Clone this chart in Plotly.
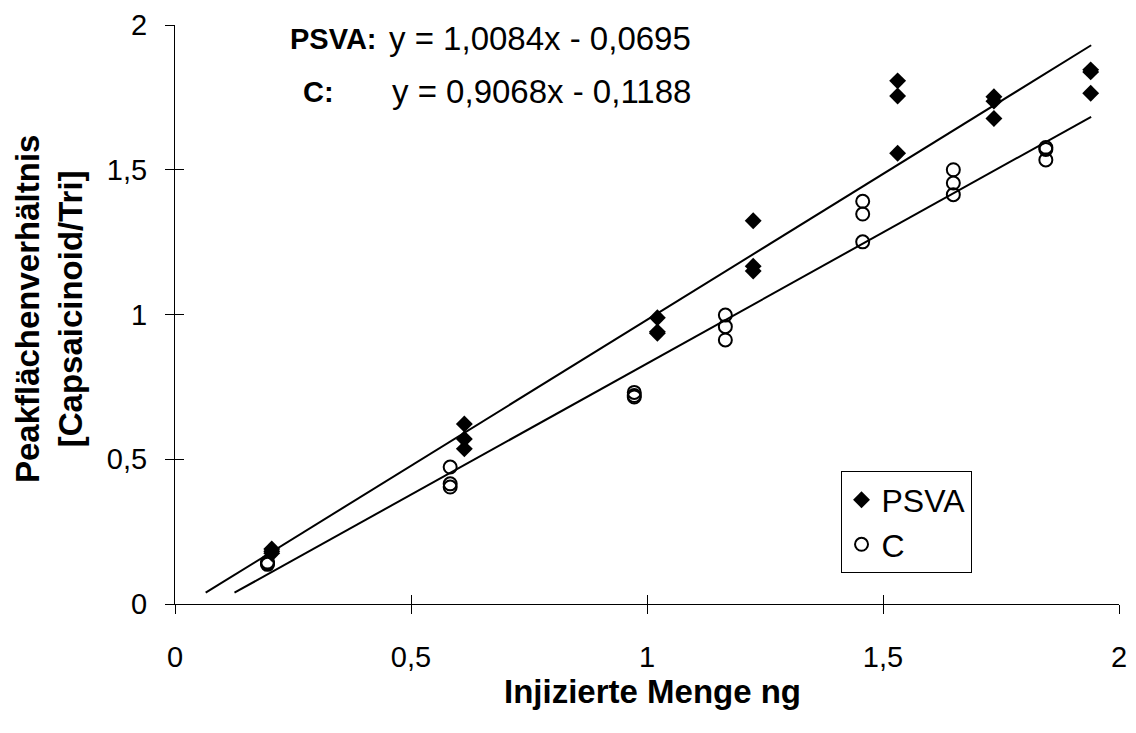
import plotly.graph_objects as go

# ---- data ----
psva_x = [0.205, 0.205, 0.205,
          0.613, 0.613, 0.613,
          1.022, 1.022, 1.022,
          1.225, 1.225, 1.225,
          1.531, 1.531, 1.531,
          1.735, 1.735, 1.735,
          1.940, 1.940, 1.940]
psva_y = [0.190, 0.182, 0.175,
          0.622, 0.570, 0.536,
          0.989, 0.940, 0.935,
          1.324, 1.167, 1.150,
          1.807, 1.755, 1.557,
          1.752, 1.737, 1.677,
          1.845, 1.838, 1.764]

c_x = [0.196, 0.196, 0.196,
       0.583, 0.583, 0.583,
       0.973, 0.973, 0.973,
       1.166, 1.166, 1.166,
       1.457, 1.457, 1.457,
       1.649, 1.649, 1.649,
       1.845, 1.845, 1.845]
c_y = [0.145, 0.140, 0.137,
       0.473, 0.415, 0.404,
       0.731, 0.720, 0.715,
       0.998, 0.958, 0.912,
       1.391, 1.347, 1.251,
       1.500, 1.454, 1.414,
       1.577, 1.570, 1.534]

# trend lines (as drawn in the reference)
trend_psva_x = [0.065, 1.941]
trend_psva_y = [0.039, 1.930]
trend_c_x = [0.126, 1.941]
trend_c_y = [0.039, 1.683]

tick_vals = [0, 0.5, 1, 1.5, 2]
tick_text = ["0", "0,5", "1", "1,5", "2"]

eq_labels = ["PSVA:", "C:"]
eq_texts = ["y = 1,0084x - 0,0695", "y = 0,9068x - 0,1188"]

FONT = "Liberation Sans, Arial, sans-serif"

fig = go.Figure()

fig.add_trace(go.Scatter(x=trend_psva_x, y=trend_psva_y, mode="lines",
                         line=dict(color="black", width=2), showlegend=False,
                         hoverinfo="skip"))
fig.add_trace(go.Scatter(x=trend_c_x, y=trend_c_y, mode="lines",
                         line=dict(color="black", width=2), showlegend=False,
                         hoverinfo="skip"))

fig.add_trace(go.Scatter(x=psva_x, y=psva_y, mode="markers", name="PSVA",
                         legendgroup="a",
                         marker=dict(symbol="diamond", size=13, color="black",
                                     line=dict(width=0))))
fig.add_trace(go.Scatter(x=c_x, y=c_y, mode="markers", name="C",
                         legendgroup="b",
                         marker=dict(symbol="circle-open", size=13, color="black",
                                     line=dict(width=2, color="black"))))

# overlay axes to obtain crossing tick marks
fig.add_trace(go.Scatter(x=[], y=[], xaxis="x2", yaxis="y2", showlegend=False))

axis_common = dict(range=[0, 2], tickvals=tick_vals, ticktext=tick_text,
                   showgrid=False, zeroline=False, showline=True,
                   linecolor="black", linewidth=1, ticks="outside",
                   ticklen=9, tickcolor="black", tickwidth=1,
                   tickfont=dict(family=FONT, size=29, color="black"))

fig.update_layout(
    width=1136, height=733,
    margin=dict(l=175, r=9, t=23, b=129),
    paper_bgcolor="white", plot_bgcolor="white",
    font=dict(family=FONT, color="black"),
    xaxis=dict(**axis_common, ticklabelstandoff=18),
    yaxis=dict(**axis_common, ticklabelstandoff=12),
    xaxis2=dict(range=[0, 2], tickvals=tick_vals, overlaying="x",
                showticklabels=False, showgrid=False, zeroline=False,
                ticks="inside", ticklen=9, tickcolor="black", side="bottom",
                anchor="y2", showline=False),
    yaxis2=dict(range=[0, 2], tickvals=tick_vals, overlaying="y",
                showticklabels=False, showgrid=False, zeroline=False,
                ticks="inside", ticklen=9, tickcolor="black", side="left",
                anchor="x2", showline=False),
    legend=dict(x=0.705, y=0.229, xanchor="left", yanchor="top",
                bgcolor="white", bordercolor="black", borderwidth=1,
                font=dict(family=FONT, size=32, color="black"),
                traceorder="grouped", tracegroupgap=0, itemwidth=30,
                valign="top"),
    showlegend=True,
)

# equation annotations
fig.add_annotation(xref="paper", yref="paper", x=(289 - 175) / 952, y=(604 - 37) / 581,
                   text="<b>" + eq_labels[0] + "</b>", showarrow=False,
                   xanchor="left", yanchor="middle",
                   font=dict(family=FONT, size=29, color="black"))
fig.add_annotation(xref="paper", yref="paper", x=(302 - 175) / 952, y=(604 - 90) / 581,
                   text="<b>" + eq_labels[1] + "</b>", showarrow=False,
                   xanchor="left", yanchor="middle",
                   font=dict(family=FONT, size=29, color="black"))
fig.add_annotation(xref="paper", yref="paper", x=(697 - 175) / 952, y=(604 - 37) / 581,
                   text=eq_texts[0], showarrow=False,
                   xanchor="right", yanchor="middle",
                   font=dict(family=FONT, size=33, color="black"))
fig.add_annotation(xref="paper", yref="paper", x=(697 - 175) / 952, y=(604 - 90) / 581,
                   text=eq_texts[1], showarrow=False,
                   xanchor="right", yanchor="middle",
                   font=dict(family=FONT, size=33, color="black"))

# axis titles
fig.add_annotation(xref="paper", yref="paper", x=(657 - 175) / 952, y=(604 - 692) / 581,
                   text="<b>Injizierte Menge ng</b>", showarrow=False,
                   xanchor="center", yanchor="middle",
                   font=dict(family=FONT, size=33, color="black"))
fig.add_annotation(xref="paper", yref="paper", x=(48 - 175) / 952, y=(604 - 308) / 581,
                   text="<b>Peakflächenverhältnis<br>[Capsaicinoid/Tri]</b>",
                   showarrow=False, textangle=-90,
                   xanchor="center", yanchor="middle",
                   font=dict(family=FONT, size=33, color="black"))

fig.write_html("out.html")
